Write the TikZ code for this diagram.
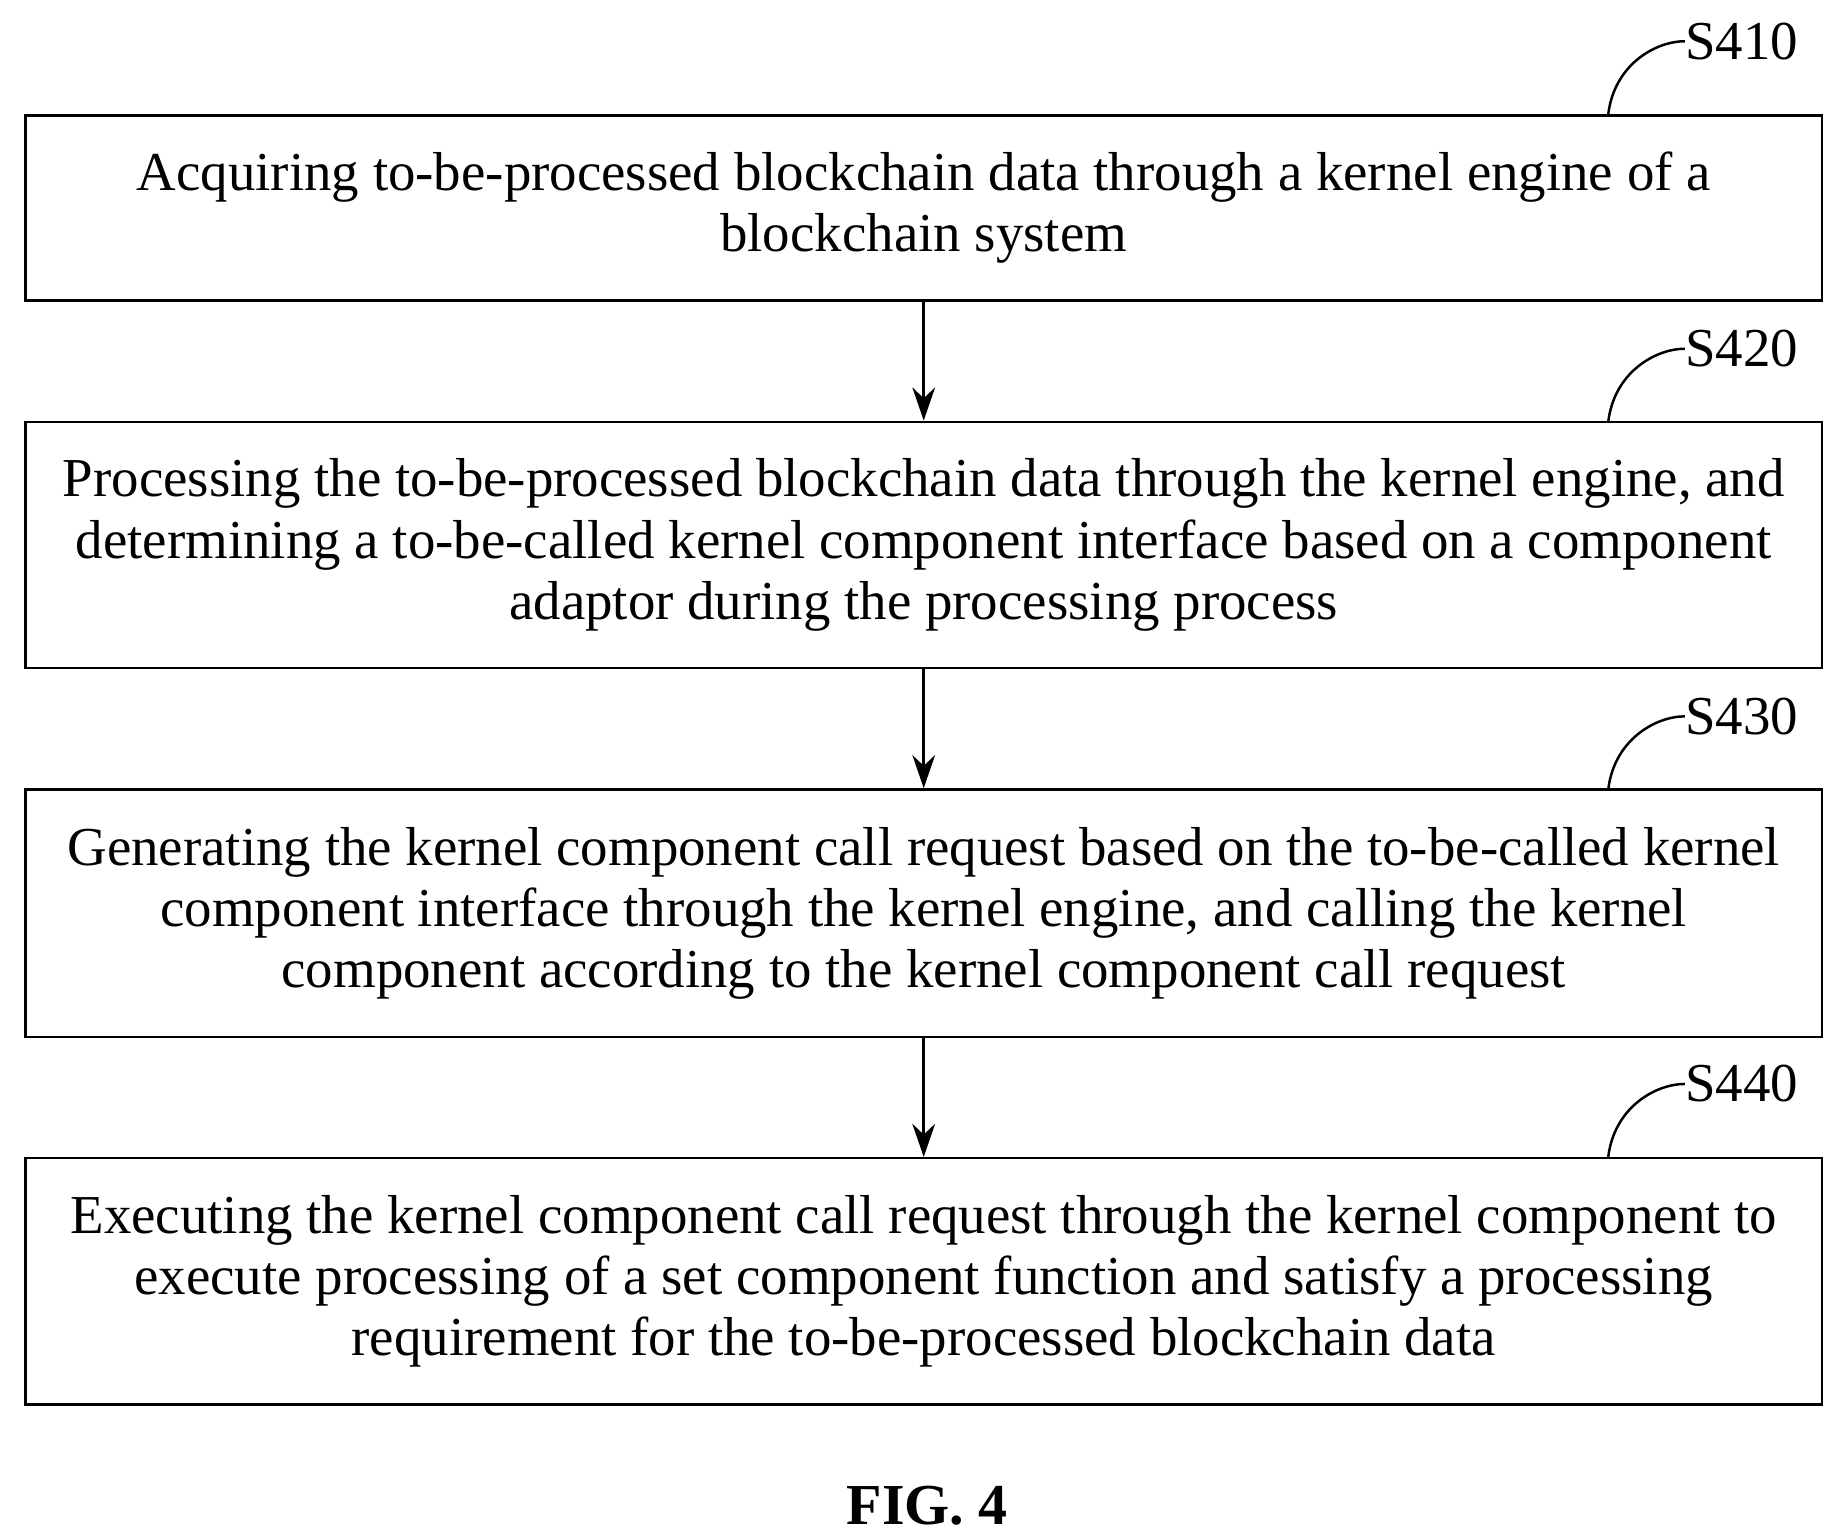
\documentclass[tikz,border=0pt]{standalone}
\usepackage{fontspec}
\setmainfont{Liberation Serif}
\usetikzlibrary{arrows.meta}
\tikzset{
  stepbox/.style={draw,very thick,minimum width=30.5cm,align=center,inner sep=0pt,
    font=\fontsize{26.5}{29.5}\selectfont},
  flow/.style={very thick,-{Stealth[length=16pt,width=11pt]}},
  tag/.style={font=\fontsize{26.5}{29.5}\selectfont,anchor=west,inner sep=0pt}
}
\begin{document}
\begin{tikzpicture}
  \useasboundingbox (0,0) rectangle (31.2,-26.12);
  % Steps
  \node[stepbox,minimum height=3.14cm] (s410) at (15.68,-3.53) {Acquiring to-be-processed blockchain data through a kernel engine of a\\blockchain system};
  \node[stepbox,minimum height=4.18cm] (s420) at (15.68,-9.25) {Processing the to-be-processed blockchain data through the kernel engine, and\\determining a to-be-called kernel component interface based on a component\\adaptor during the processing process};
  \node[stepbox,minimum height=4.2cm] (s430) at (15.68,-15.5) {Generating the kernel component call request based on the to-be-called kernel\\component interface through the kernel engine, and calling the kernel\\component according to the kernel component call request};
  \node[stepbox,minimum height=4.18cm] (s440) at (15.68,-21.75) {Executing the kernel component call request through the kernel component to\\execute processing of a set component function and satisfy a processing\\requirement for the to-be-processed blockchain data};
  % Arrows
  \draw[flow] (s410) -- (s420);
  \draw[flow] (s420) -- (s430);
  \draw[flow] (s430) -- (s440);
  % Labels
  \foreach \n/\y in {410/-0.7,420/-5.92,430/-12.16,440/-18.4}{
    \node[tag] (l\n) at (28.6,\y) {S\n};
    \draw[very thick] (27.3,\y-1.24) .. controls (27.4,\y-0.4) and (28.1,\y) .. (l\n.west);
  }
  \node[font=\bfseries\fontsize{28}{32}\selectfont] (fig) at (15.74,-25.56) {FIG. 4};
\end{tikzpicture}
\end{document}
